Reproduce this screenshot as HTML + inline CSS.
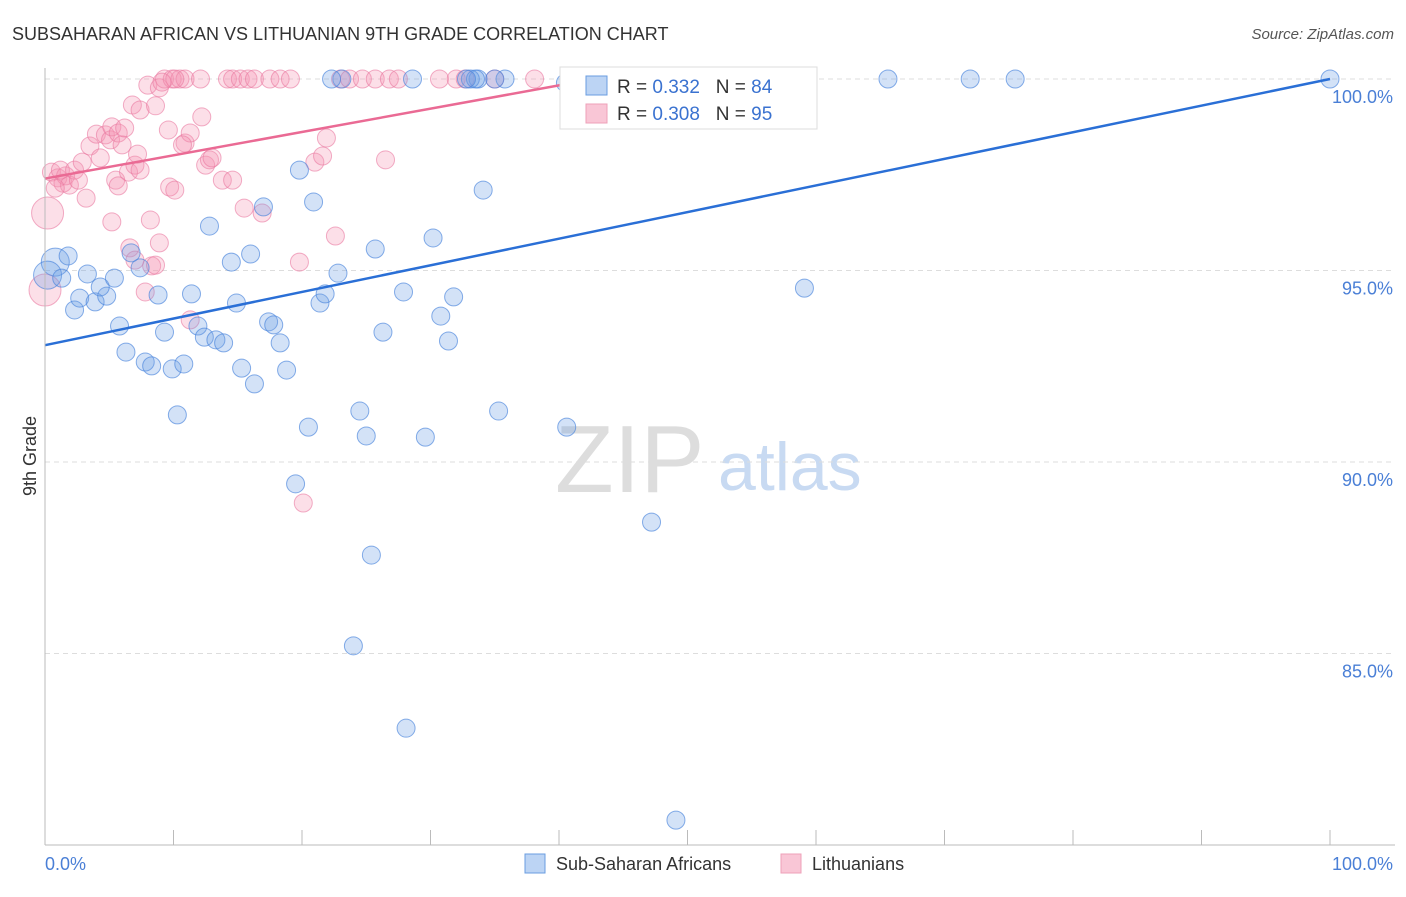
<!DOCTYPE html>
<html><head><meta charset="utf-8"><style>
body{margin:0;background:#fff;font-family:"Liberation Sans",sans-serif;}
svg text{font-family:"Liberation Sans",sans-serif;}
</style></head><body>
<svg width="1406" height="892" viewBox="0 0 1406 892">
<text x="12" y="40" font-size="18" fill="#333">SUBSAHARAN AFRICAN VS LITHUANIAN 9TH GRADE CORRELATION CHART</text>
<text x="1394" y="39" font-size="15" fill="#555" font-style="italic" text-anchor="end">Source: ZipAtlas.com</text>
<text x="555" y="492" font-size="96" fill="#ddd" font-family="Liberation Serif,serif">ZIP</text>
<text x="718" y="490" font-size="68" fill="#c8daf2">atlas</text>
<g id="grid"></g><g id="pts"></g><g id="lines"></g>
<line x1="45" y1="68" x2="45" y2="845" stroke="#bbb"/>
<line x1="45" y1="845" x2="1395" y2="845" stroke="#bbb"/>
<g id="ticks"></g>
<text x="36" y="456" font-size="18" fill="#333" transform="rotate(-90 36 456)" text-anchor="middle">9th Grade</text>
<text x="45" y="870" font-size="18" fill="#4a7fd6">0.0%</text>
<text x="1393" y="870" font-size="18" fill="#4a7fd6" text-anchor="end">100.0%</text>
<g>
<rect x="560" y="67" width="257" height="62" fill="#fff" stroke="#ddd"/>
<rect x="586" y="76" width="21" height="19" fill="#bcd4f4" stroke="#6a9de0"/>
<rect x="586" y="104" width="21" height="19" fill="#f9c6d6" stroke="#eea0b8"/>
<text x="617" y="93" font-size="19" fill="#333">R = <tspan fill="#3a72d0">0.332</tspan>&#160;&#160;&#160;N = <tspan fill="#3a72d0">84</tspan></text>
<text x="617" y="120" font-size="19" fill="#333">R = <tspan fill="#3a72d0">0.308</tspan>&#160;&#160;&#160;N = <tspan fill="#3a72d0">95</tspan></text>
</g>
<g>
<rect x="525" y="854" width="20" height="19" fill="#bcd4f4" stroke="#6a9de0"/>
<text x="556" y="870" font-size="18" fill="#333">Sub-Saharan Africans</text>
<rect x="781" y="854" width="20" height="19" fill="#f9c6d6" stroke="#eea0b8"/>
<text x="812" y="870" font-size="18" fill="#333">Lithuanians</text>
</g>
</svg>
<script>
const yTicks=[100,95,90,85];
const xTickVals=[0,10,20,30,40,50,60,70,80,90,100];
const blueX=[0.8,1.8,0.2,1.3,3.3,2.3,2.7,3.9,4.8,4.3,5.4,5.8,6.3,7.4,6.7,7.8,8.3,8.8,9.3,9.9,10.8,10.3,11.4,11.9,12.4,13.3,13.9,12.8,14.9,14.5,15.3,16.3,16,17,17.4,17.8,18.3,18.8,19.8,20.9,21.4,21.8,22.8,20.5,19.5,25,24.5,25.7,26.3,25.4,24,28.1,27.9,30.2,30.8,31.4,31.8,29.6,34.1,35.3,40.6,47.2,49.1,59.1,42.3,55.5,100,75.5,72,65.6,35.8,35,33.7,33.1,33.5,32.8,28.6,23.1,22.3,40.5,46.1,54.7,42.4,43.2];
const blueY=[95.22,95.38,94.88,94.8,94.91,93.97,94.28,94.18,94.33,94.57,94.8,93.55,92.87,95.07,95.46,92.61,92.51,94.36,93.39,92.43,92.56,91.23,94.39,93.55,93.26,93.19,93.11,96.16,94.15,95.22,92.45,92.04,95.43,96.66,93.66,93.58,93.11,92.4,97.62,96.79,94.15,94.39,94.93,90.91,89.43,90.68,91.33,95.56,93.39,87.57,85.2,83.05,94.44,95.85,93.81,93.16,94.31,90.65,97.1,91.33,90.91,88.43,80.65,94.54,99.11,99.11,100,100,100,100,100,100,100,100,100,100,100,100,100,99.9,100,100,100,100];
const pinkX=[0.2,0,0.5,1,1.4,1.6,1.9,1.2,0.8,2.3,2.6,3.2,2.9,3.5,4,4.3,4.7,5.1,5.2,5.7,6,6.2,5.5,5.7,6.5,7,7.4,6.8,7.4,8.6,8,8.9,7.2,9.6,10.9,11.3,10.7,12.2,9.7,10.1,12.5,12.8,13,13.8,14.6,15.5,16.9,8.2,6.6,7,8.9,8.3,8.6,5.2,7.8,11.3,19.8,20.1,22.6,21,21.6,21.9,26.5,9.3,9.9,10.5,10.9,10.1,12.1,14.2,14.6,15.2,15.8,16.3,17.5,18.3,19.1,23,23.7,24.7,25.7,26.8,27.5,30.7,32,32.7,35,38.1,9.1];
const pinkY=[96.5,94.49,97.57,97.42,97.28,97.47,97.23,97.62,97.15,97.62,97.36,96.89,97.83,98.25,98.56,97.94,98.54,98.41,98.75,98.59,98.28,98.72,97.36,97.21,97.57,97.75,97.62,99.32,99.19,99.3,99.84,99.77,98.04,98.67,98.33,98.59,98.28,99.01,97.18,97.1,97.75,97.89,97.94,97.36,97.36,96.63,96.5,96.32,95.59,95.27,95.72,95.12,95.14,96.27,94.44,93.71,95.22,88.93,95.9,97.83,97.99,98.46,97.89,100,100,100,100,100,100,100,100,100,100,100,100,100,100,100,100,100,100,100,100,100,100,100,100,100,99.92];
const blueFit=[93.05,100];   // y at x=0, x=100
const pinkFit=[97.4,99.84,40.1]; // y at 0, y at end, end x
const sx=v=>45+v*12.85, sy=v=>79+(100-v)*38.3;
const NS='http://www.w3.org/2000/svg';
function mk(p,t,a){const e=document.createElementNS(NS,t);for(const k in a)e.setAttribute(k,a[k]);p.appendChild(e);return e;}
const grid=document.getElementById('grid'),ticks=document.getElementById('ticks');
yTicks.forEach(t=>{
 const l=mk(grid,'line',{x1:45,x2:1395,y1:sy(t),y2:sy(t),stroke:'#ddd','stroke-dasharray':'5,4'});
 
 
 const tx=mk(ticks,'text',{x:1393,y:sy(t)+24,'font-size':18,fill:'#4a7fd6','text-anchor':'end'});
 tx.textContent=t.toFixed(1)+'%';
 
 
});
xTickVals.forEach(v=>{
 const l=mk(ticks,'line',{x1:sx(v),x2:sx(v),y1:830,y2:845,stroke:'#bbb'});
 
 
});
const pts=document.getElementById('pts');
pinkX.forEach((x,i)=>{
 const r=(i<2)?16:9;
 const c=mk(pts,'circle',{cx:sx(x),cy:sy(pinkY[i]),r:r,fill:'rgba(244,150,180,0.3)',stroke:'rgba(234,120,160,0.6)'});
 
 
});
blueX.forEach((x,i)=>{
 const r=(i==0||i==2)?14:9;
 const c=mk(pts,'circle',{cx:sx(x),cy:sy(blueY[i]),r:r,fill:'rgba(110,160,230,0.3)',stroke:'rgba(70,130,220,0.65)'});
 
 
});
const lines=document.getElementById('lines');
const bl=mk(lines,'line',{x1:sx(0),y1:sy(blueFit[0]),x2:sx(100),y2:sy(blueFit[1]),stroke:'#2a6fd6','stroke-width':2.5});


const pl=mk(lines,'line',{x1:sx(0),y1:sy(pinkFit[0]),x2:sx(pinkFit[2]),y2:sy(pinkFit[1]),stroke:'#ea6a94','stroke-width':2.5});


</script>
</body></html>
